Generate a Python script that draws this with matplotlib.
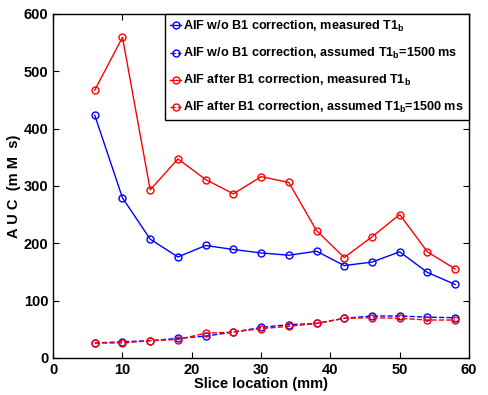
import matplotlib
matplotlib.use("Agg")
import matplotlib.pyplot as plt
import numpy as np

plt.rcParams['font.family'] = ['Liberation Sans', 'DejaVu Sans']
plt.rcParams['font.weight'] = 'bold'
plt.rcParams['mathtext.fontset'] = 'custom'
plt.rcParams['mathtext.rm'] = 'Liberation Sans:bold'
plt.rcParams['mathtext.it'] = 'Liberation Sans:bold'
plt.rcParams['mathtext.bf'] = 'Liberation Sans:bold'

#################   data   #################

slice_mm = [6, 10, 14, 18, 22, 26, 30, 34, 38, 42, 46, 50, 54, 58]

woB1_measured = [423, 279, 207, 176, 196, 189, 183, 179, 186, 161, 167, 185, 149, 128]
woB1_assumed = [26, 28, 30, 34, 38, 45, 53, 58, 60, 69, 73, 73, 71, 70]
B1_measured = [467, 559, 293, 347, 311, 286, 316, 306, 222, 175, 211, 250, 185, 155]
B1_assumed = [26, 26, 30, 32, 43, 45, 51, 55, 60, 69, 70, 69, 66, 66]

labels = [r'AIF w/o B1 correction, measured T1$_{b}$',
          r'AIF w/o B1 correction, assumed T1$_{b}$=1500 ms',
          r'AIF after B1 correction, measured T1$_{b}$',
          r'AIF after B1 correction, assumed T1$_{b}$=1500 ms']

#################   plot   #################

fig = plt.figure(figsize=(4.88, 3.95), dpi=100)
ax = fig.add_axes([0.109, 0.094, 0.852, 0.871])

kw = dict(marker='o', mfc='none', ms=5, lw=1, mew=1)
ax.plot(slice_mm, woB1_measured, '-', color='b', label=labels[0], **kw)
ax.plot(slice_mm, woB1_assumed, '--', color='b', label=labels[1], **kw)
ax.plot(slice_mm, B1_measured, '-', color='r', label=labels[2], **kw)
ax.plot(slice_mm, B1_assumed, '--', color='r', label=labels[3], **kw)

ax.set_xlim(0, 60)
ax.set_ylim(0, 600)
ax.set_xticks(np.arange(0, 61, 10))
ax.set_yticks(np.arange(0, 601, 100))
ax.tick_params(direction='in', top=True, right=True, labelsize=10.5, length=4, width=0.8)
for s in ax.spines.values():
    s.set_linewidth(1)

ax.set_xlabel('Slice location (mm)', fontsize=10.5, fontweight='bold', labelpad=0)
ax.set_ylabel('A U C  (m M  s)', fontsize=10.5, fontweight='bold', labelpad=2)

leg = ax.legend(loc='upper right', fontsize=9.1, frameon=True, fancybox=False,
                edgecolor='k', framealpha=1, borderaxespad=0, handlelength=0.9,
                handletextpad=0.15, labelspacing=0.95, borderpad=0.4)
leg.get_frame().set_linewidth(1)

fig.savefig('out.png', dpi=100)
